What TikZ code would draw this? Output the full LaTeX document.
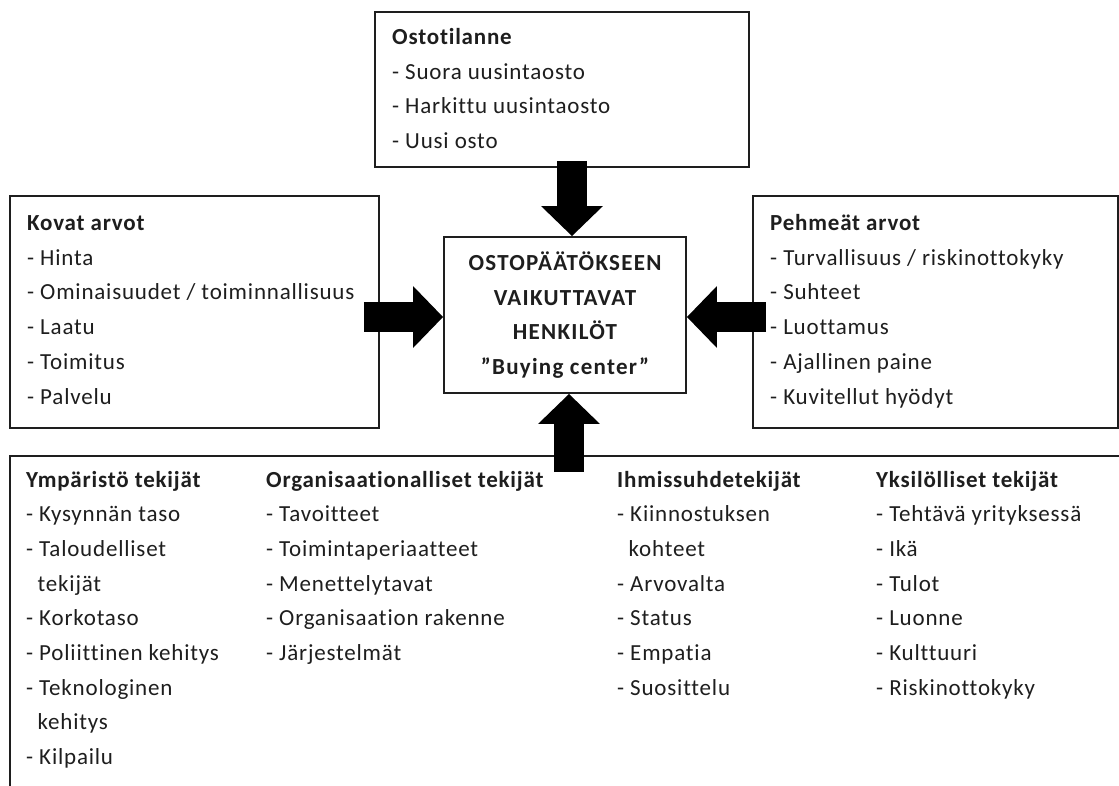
\documentclass[tikz,border=0pt]{standalone}
\usepackage{fontspec}
\setmainfont{Carlito}[LetterSpace=3.5,Ligatures={NoCommon}]
\usetikzlibrary{arrows.meta,calc}
\definecolor{ink}{HTML}{1E1E1E}
\begin{document}
\begin{tikzpicture}[x=1pt,y=-1pt,
  box/.style={draw=ink,line width=1.8pt,rectangle,inner sep=0pt},
  txt/.style={anchor=base west,inner sep=0pt,align=left,text=ink,
    font=\fontsize{23}{34.7}\selectfont},
  ctxt/.style={inner sep=0pt,align=center,text=ink,
    font=\fontsize{23}{34.7}\selectfont\bfseries\addfontfeatures{LetterSpace=5.5}},
  bigarrow/.style={draw=black,line width=30pt,
    -{Triangle[width=60pt,length=30pt]}}]
\useasboundingbox (0,0) rectangle (1119,785);
\clip (0,0) rectangle (1119,785);
\fill[white] (0,0) rectangle (1119,785);
% boxes
\node[box,minimum width=374pt,minimum height=155pt] (top) at (562,89.5) {};
\node[box,minimum width=369pt,minimum height=232pt] (lbox) at (194.5,312) {};
\node[box,minimum width=365pt,minimum height=232pt] (rbox) at (935.5,312) {};
\node[box,minimum width=242pt,minimum height=156pt] (cbox) at (565,315) {};
\node[box,minimum width=1150pt,minimum height=400pt,anchor=north west] (bot) at (9,455) {};
% texts (anchor = baseline of the last line)
\node[txt] (toptext) at (392,148.6) {\textbf{Ostotilanne}\\- Suora uusintaosto\\- Harkittu uusintaosto\\- Uusi osto};
\node[txt] (ltext) at (27,404) {\textbf{Kovat arvot}\\- Hinta\\- Ominaisuudet / toiminnallisuus\\- Laatu\\- Toimitus\\- Palvelu};
\node[txt] (rtext) at (770,404) {\textbf{Pehmeät arvot}\\- Turvallisuus / riskinottokyky\\- Suhteet\\- Luottamus\\- Ajallinen paine\\- Kuvitellut hyödyt};
\node[ctxt] (ctext) at (cbox.center) {OSTOPÄÄTÖKSEEN\\VAIKUTTAVAT\\HENKILÖT\\”Buying center”};
\node[txt] (b1) at (26,764.6) {\textbf{Ympäristö tekijät}\\- Kysynnän taso\\- Taloudelliset\\\hspace*{0.5em}tekijät\\- Korkotaso\\- Poliittinen kehitys\\- Teknologinen\\\hspace*{0.5em}kehitys\\- Kilpailu};
\node[txt] (b2) at (266,660.5) {\textbf{Organisaationalliset tekijät}\\- Tavoitteet\\- Toimintaperiaatteet\\- Menettelytavat\\- Organisaation rakenne\\- Järjestelmät};
\node[txt] (b3) at (617,695.2) {\textbf{Ihmissuhdetekijät}\\- Kiinnostuksen\\\hspace*{0.5em}kohteet\\- Arvovalta\\- Status\\- Empatia\\- Suosittelu};
\node[txt] (b4) at (876,695.2) {\textbf{Yksilölliset tekijät}\\- Tehtävä yrityksessä\\- Ikä\\- Tulot\\- Luonne\\- Kulttuuri\\- Riskinottokyky};
% arrows
\coordinate (vx) at (572,0);
\coordinate (ux) at (569,0);
\coordinate (hy) at (0,317);
\draw[bigarrow] ($(top.south -| vx)+(0,-7)$) -- (cbox.north -| vx);
\draw[bigarrow] ($(lbox.east |- hy)+(-16,0)$) -- (cbox.west |- hy);
\draw[bigarrow] ($(rbox.west |- hy)+(14,0)$) -- (cbox.east |- hy);
\draw[bigarrow] ($(bot.north -| ux)+(0,17)$) -- (cbox.south -| ux);
\end{tikzpicture}
\end{document}
